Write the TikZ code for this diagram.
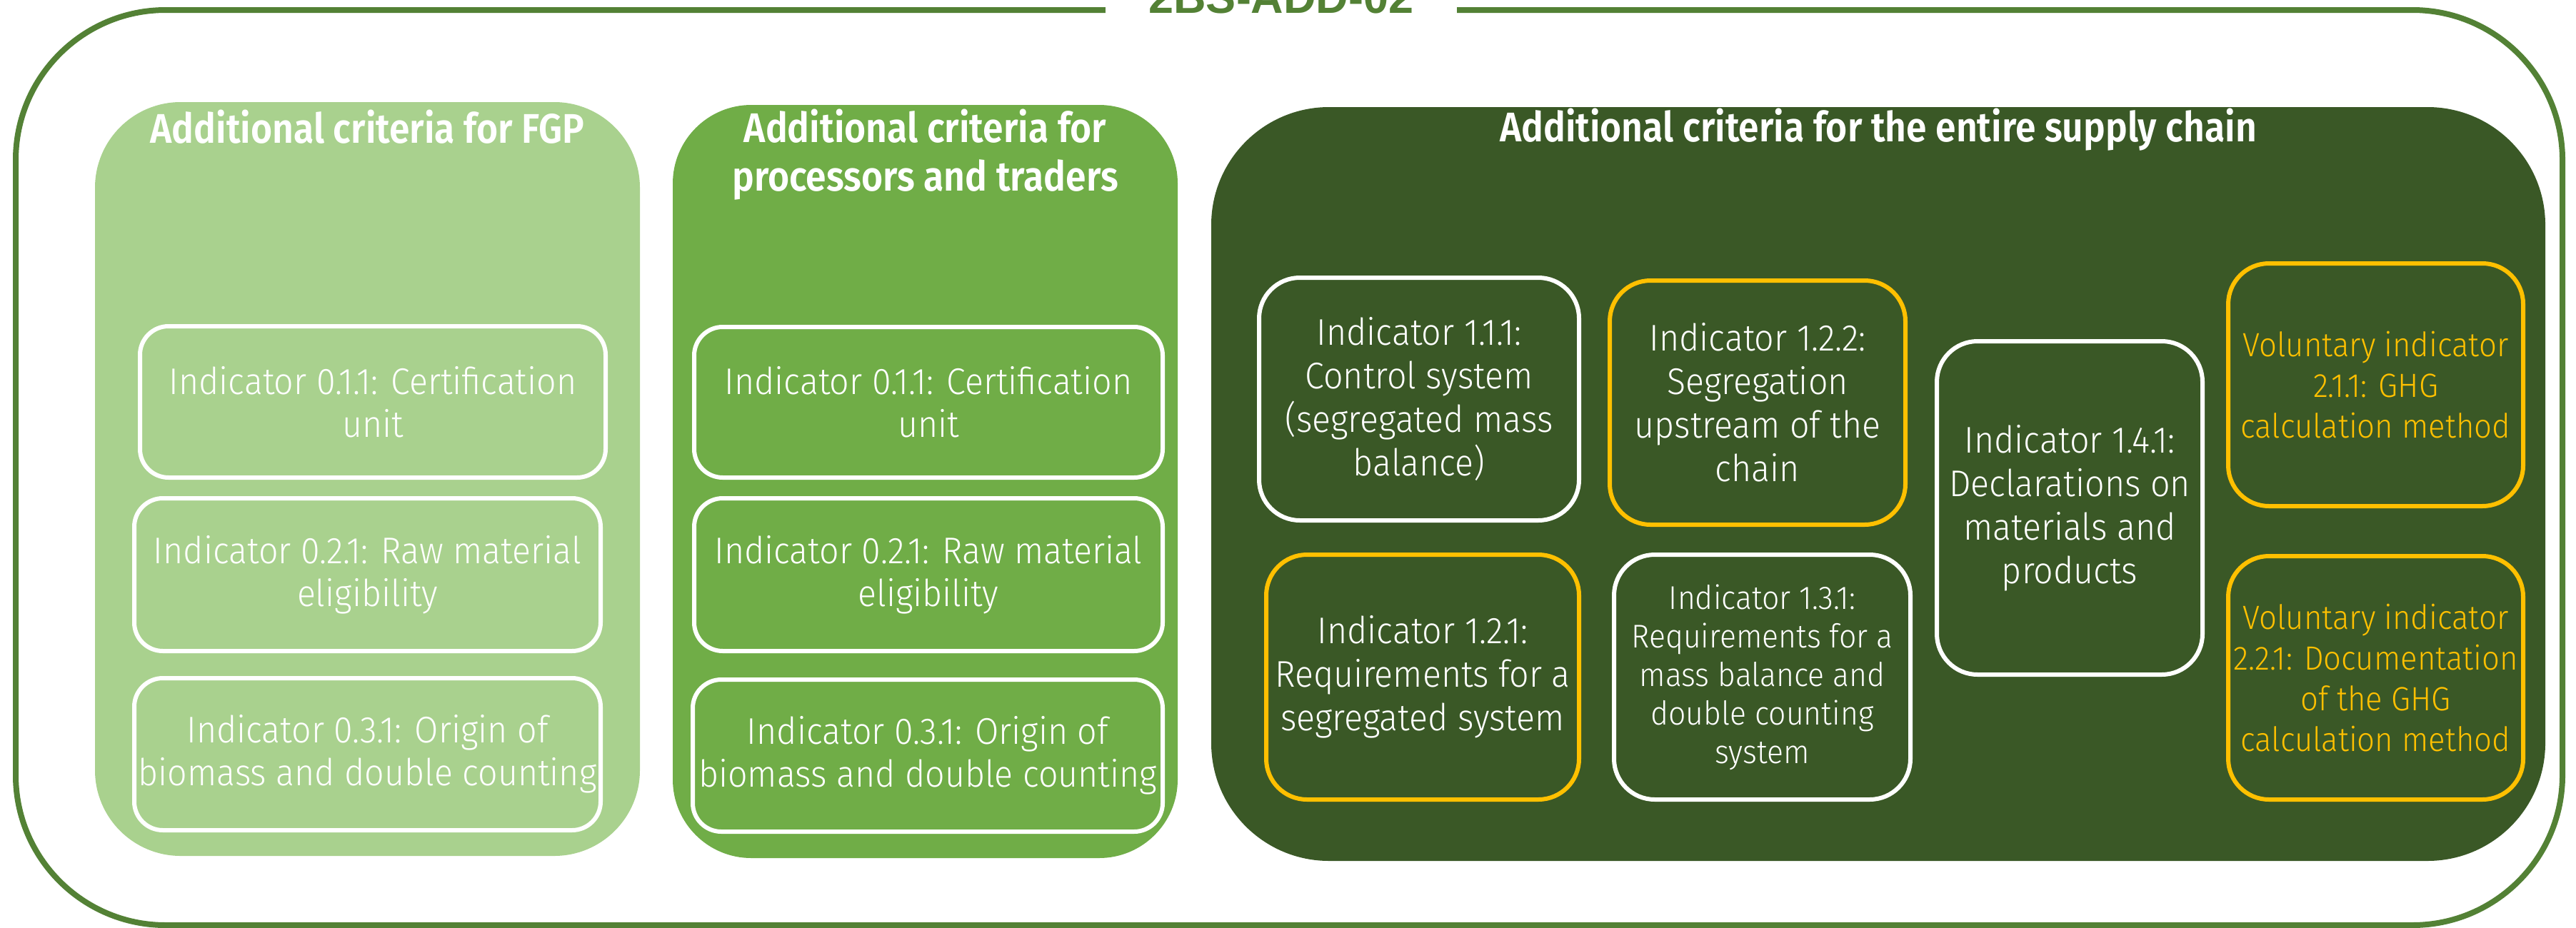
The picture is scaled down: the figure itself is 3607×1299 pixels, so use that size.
\documentclass[tikz,border=0pt]{standalone}
\usepackage{fontspec}
\setmainfont{Fira Sans}[UprightFont=* Light, BoldFont=* SemiBold, FakeStretch=0.93]
\newfontfamily\headfont{Fira Sans SemiBold}[FakeStretch=0.89]
\newfontfamily\titlefont{Liberation Sans}
\definecolor{framec}{HTML}{538135}
\definecolor{pone}{HTML}{A9D18E}
\definecolor{ptwo}{HTML}{70AD47}
\definecolor{pthree}{HTML}{3A5826}
\definecolor{gold}{HTML}{FFC000}
\begin{document}
\begin{tikzpicture}[x=1pt,y=-1pt,
  panel/.style={inner sep=0pt, outer sep=0pt, draw=none},
  head/.style={font=\headfont\fontsize{58}{68}\selectfont, text=white, align=center, inner sep=0pt, anchor=base},
  ibox/.style={draw=white, line width=6pt, rounded corners=40pt, inner sep=0pt, align=center, text=white, font=\fontsize{52}{60}\selectfont},
  gbox/.style={draw=white, line width=6pt, rounded corners=57pt, inner sep=0pt, align=center, text=white, font=\fontsize{52}{61}\selectfont},
  ybox/.style={gbox, draw=gold},
  vbox/.style={ybox, text=gold, font=\fontsize{47}{57}\selectfont}
]
\useasboundingbox (0,0) rectangle (3607,1299);
% outer frame
\node[draw=framec, line width=8pt, rounded corners=210pt, minimum width=3566pt, minimum height=1282pt, inner sep=0pt] (frame) at (1805,655) {};
\node[fill=white, inner xsep=0pt, inner ysep=6pt, minimum width=492pt, anchor=base, text=framec, font=\titlefont\bfseries\fontsize{63}{70}\selectfont] (title) at (1794,18) {2BS-ADD-02};
% panels
\node[panel, fill=pone, rounded corners=120pt, minimum width=763pt, minimum height=1056pt] (p1) at (514.5,671) {};
\node[panel, fill=ptwo, rounded corners=110pt, minimum width=707pt, minimum height=1055pt] (p2) at (1295.5,674.5) {};
\node[panel, fill=pthree, rounded corners=165pt, minimum width=1868pt, minimum height=1056pt] (p3) at (2630,678) {};
% headers
\node[head] (h1) at (514.5,200) {Additional criteria for FGP};
\node[head] (h2) at (1295.5,267) {Additional criteria for\\processors and traders};
\node[head] (h3) at (2630,198) {Additional criteria for the entire supply chain};
% panel 1 boxes
\node[ibox, minimum width=652pt, minimum height=212pt] (a1) at (522,563) {Indicator 0.1.1: Certification\\unit};
\node[ibox, minimum width=653pt, minimum height=214pt] (a2) at (514.5,805) {Indicator 0.2.1: Raw material\\eligibility};
\node[ibox, minimum width=653pt, minimum height=213pt] (a3) at (514.5,1056.5) {Indicator 0.3.1: Origin of\\biomass and double counting};
% panel 2 boxes
\node[ibox, minimum width=656pt, minimum height=211pt] (b1) at (1300,563.5) {Indicator 0.1.1: Certification\\unit};
\node[ibox, minimum width=656pt, minimum height=214pt] (b2) at (1300,805) {Indicator 0.2.1: Raw material\\eligibility};
\node[ibox, minimum width=658pt, minimum height=213pt] (b3) at (1299,1058.5) {Indicator 0.3.1: Origin of\\biomass and double counting};
% panel 3 boxes
\node[gbox, minimum width=448pt, minimum height=340pt] (c111) at (1987,559) {Indicator 1.1.1:\\Control system\\(segregated mass\\balance)};
\node[ybox, minimum width=414pt, minimum height=342pt] (c122) at (2461,564) {Indicator 1.2.2:\\Segregation\\upstream of the\\chain};
\node[ybox, minimum width=438pt, minimum height=343pt] (c121) at (1992,948.5) {Indicator 1.2.1:\\Requirements for a\\segregated system};
\node[gbox, minimum width=415pt, minimum height=343pt, font=\fontsize{46}{54}\selectfont] (c131) at (2467.5,948.5) {Indicator 1.3.1:\\Requirements for a\\mass balance and\\double counting\\system};
\node[gbox, minimum width=372pt, minimum height=467pt] (c141) at (2898,711.5) {Indicator 1.4.1:\\Declarations on\\materials and\\products};
\node[vbox, minimum width=413pt, minimum height=340pt] (v211) at (3326.5,539) {Voluntary indicator\\2.1.1: GHG\\calculation method};
\node[vbox, minimum width=413pt, minimum height=341pt] (v221) at (3326.5,949.5) {Voluntary indicator\\2.2.1: Documentation\\of the GHG\\calculation method};
\end{tikzpicture}
\end{document}
